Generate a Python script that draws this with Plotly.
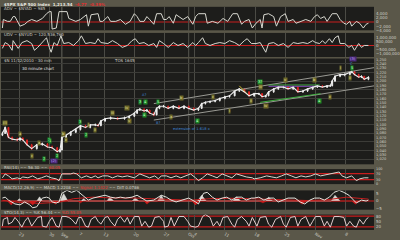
import plotly.graph_objects as go

# ---------------- DATA (x = 30-minute bar number from Aug 18 2010, 13 bars per day) ----------------
price_x = [2, 8, 15, 23, 34, 40, 46, 55, 65, 76, 88, 99, 109, 120, 126, 130, 139, 149, 160, 170,
           181, 191, 202, 208, 214, 223, 235, 250, 265, 275, 286, 292, 298, 307, 313, 319, 328, 334,
           340, 349, 359, 370, 382, 393, 403, 414, 424, 431, 439, 449, 460, 470, 481, 491, 502, 512,
           523, 533, 544, 554, 561, 569, 575, 586, 596, 607, 617, 628, 638, 649, 659, 670, 680, 691,
           701, 708, 712, 718, 729, 739, 750, 754, 760, 769, 775, 781, 790]
price_open = [1075, 1079, 1093, 1070, 1066, 1064, 1068, 1064, 1053, 1044, 1053, 1055, 1048, 1046, 1037,
              1041, 1070, 1075, 1082, 1088, 1097, 1093, 1099, 1099, 1097, 1108, 1113, 1115, 1113, 1115,
              1119, 1126, 1133, 1135, 1131, 1133, 1126, 1122, 1137, 1142, 1142, 1137, 1142, 1137, 1142,
              1137, 1133, 1137, 1148, 1151, 1153, 1155, 1160, 1164, 1166, 1177, 1182, 1175, 1166, 1171,
              1171, 1164, 1166, 1175, 1182, 1186, 1186, 1182, 1186, 1175, 1177, 1182, 1186, 1189, 1186,
              1189, 1189, 1200, 1211, 1215, 1215, 1220, 1222, 1215, 1209, 1211, 1204]
price_high = [1083, 1095, 1094, 1072, 1069, 1070, 1070, 1065, 1055, 1055, 1058, 1057, 1051, 1048, 1043,
              1072, 1077, 1084, 1090, 1099, 1099, 1101, 1102, 1101, 1110, 1115, 1118, 1117, 1118, 1121,
              1128, 1135, 1138, 1137, 1135, 1134, 1128, 1139, 1144, 1145, 1143, 1144, 1144, 1144, 1143,
              1139, 1139, 1150, 1153, 1155, 1157, 1162, 1166, 1168, 1179, 1184, 1183, 1177, 1173, 1173,
              1172, 1168, 1177, 1184, 1188, 1189, 1188, 1188, 1187, 1179, 1184, 1188, 1191, 1191, 1191,
              1192, 1202, 1213, 1217, 1218, 1222, 1224, 1223, 1217, 1213, 1212, 1211]
price_low = [1073, 1078, 1068, 1063, 1061, 1062, 1062, 1051, 1041, 1042, 1051, 1046, 1044, 1035, 1035,
             1040, 1068, 1073, 1080, 1086, 1091, 1091, 1096, 1095, 1096, 1106, 1111, 1110, 1111, 1113,
             1117, 1124, 1131, 1128, 1129, 1124, 1119, 1121, 1135, 1139, 1135, 1135, 1135, 1135, 1135,
             1131, 1131, 1136, 1146, 1149, 1151, 1153, 1158, 1162, 1165, 1175, 1173, 1164, 1164, 1168,
             1161, 1162, 1165, 1173, 1180, 1183, 1180, 1180, 1173, 1173, 1175, 1180, 1184, 1184, 1184,
             1187, 1188, 1198, 1209, 1211, 1213, 1218, 1213, 1207, 1207, 1202, 1202]
price_close = [1079, 1093, 1070, 1066, 1064, 1068, 1064, 1053, 1044, 1053, 1055, 1048, 1046, 1037, 1041,
               1070, 1075, 1082, 1088, 1097, 1093, 1099, 1099, 1097, 1108, 1113, 1115, 1113, 1115, 1119,
               1126, 1133, 1135, 1131, 1133, 1126, 1122, 1137, 1142, 1142, 1137, 1142, 1137, 1142, 1137,
               1133, 1137, 1148, 1151, 1153, 1155, 1160, 1164, 1166, 1177, 1182, 1175, 1166, 1171, 1171,
               1164, 1166, 1175, 1182, 1186, 1186, 1182, 1186, 1175, 1177, 1182, 1186, 1189, 1186, 1189,
               1189, 1200, 1211, 1215, 1215, 1220, 1222, 1215, 1209, 1211, 1204, 1209]

channel_x = [328, 802]
channel_upper = [1148, 1231]
channel_lower = [1110, 1189]
green_low_x = [557, 687]
green_low = [1151, 1171]
green_top_x = [575, 685]
green_top = [1191, 1191]
purple_top = [1188, 1188]
fib_x = [512, 533]
fib_vals = [1189, 1166]

ad_x = [2, 4, 13, 19, 25, 29, 40, 50, 57, 65, 76, 88, 97, 103, 107, 109, 118, 124, 128, 141, 145, 151,
        160, 170, 181, 183, 187, 193, 208, 212, 218, 229, 235, 246, 256, 267, 277, 286, 292, 298, 307,
        313, 319, 328, 334, 344, 349, 355, 361, 370, 376, 382, 391, 401, 412, 418, 424, 439, 443, 454,
        466, 477, 487, 498, 508, 517, 523, 533, 540, 548, 557, 561, 565, 575, 586, 592, 601, 611, 617,
        628, 634, 645, 655, 666, 674, 680, 687, 695, 701, 712, 722, 729, 737, 743, 750, 754, 764, 771,
        779, 785, 790]
ad_vals = [-2900, 1200, 300, 300, 2600, 2600, -2000, -1100, 300, 1200, 300, 1700, 4000, 5000, 5000,
           -3400, -2900, 5000, 5000, 5000, 1700, 1200, 300, 1200, 3500, 3500, -2000, 3500, 4000, 300,
           300, 2600, 300, 300, 1200, -1100, 300, 4000, 2600, 300, 300, 2600, 1200, -1100, 4000, 4000,
           1200, 1200, 2600, -600, 3500, 2600, 1200, 2600, -1100, 2600, 4000, 4000, -600, 300, -600,
           1700, 300, 4000, 4000, -1100, 300, 1200, -2900, -600, 1200, -2900, 3500, 4000, 2600, -2000,
           2600, 4000, 300, 1200, -600, 300, 1200, 300, 2600, 3500, 1700, 2600, 300, 4000, 4000, 1200,
           -600, -1100, 300, -2000, 300, -600, -2900, -1100, -600]

udv_x = [2, 8, 15, 23, 25, 36, 44, 55, 65, 71, 78, 86, 97, 103, 107, 113, 120, 128, 134, 145, 155,
         166, 172, 181, 191, 202, 208, 214, 229, 239, 250, 260, 271, 281, 288, 296, 307, 317, 328, 334,
         340, 349, 359, 370, 380, 391, 401, 412, 418, 424, 433, 439, 449, 460, 470, 481, 491, 502, 512,
         523, 529, 538, 548, 557, 569, 575, 586, 596, 607, 617, 628, 638, 649, 659, 670, 676, 685, 691,
         697, 706, 712, 718, 725, 729, 739, 748, 754, 760, 769, 775, 781, 790]
udv_vals = [-375000, 375000, 125000, -625000, 625000, -375000, 375000, 625000, 250000, -625000,
            -250000, 250000, 1000000, -250000, -875000, 375000, 0, 1250000, 250000, 375000, 0, 625000,
            1250000, 250000, 375000, 250000, 875000, 375000, 250000, 625000, 250000, -250000, 0,
            625000, 875000, 250000, 375000, 0, 250000, -250000, 625000, 250000, -250000, 375000, 0,
            250000, -250000, 375000, 0, 375000, 1000000, 250000, 0, 250000, 375000, 250000, 625000,
            375000, 0, 625000, 875000, 250000, 250000, 375000, -875000, 250000, 375000, 0, 250000,
            -250000, 375000, 250000, 375000, 250000, 625000, 375000, 250000, 625000, 250000, 875000,
            375000, 1000000, 1250000, 250000, 250000, -250000, 0, -625000, 250000, -250000, 0, 0]

rsi_x = [2, 8, 15, 23, 34, 40, 46, 57, 67, 78, 86, 97, 107, 118, 124, 130, 139, 149, 155, 162, 172, 183,
         193, 202, 208, 218, 229, 239, 250, 260, 271, 286, 298, 309, 319, 330, 338, 344, 355, 365, 376,
         386, 397, 407, 418, 424, 433, 443, 454, 464, 475, 485, 496, 506, 517, 527, 540, 544, 557, 571,
         582, 592, 603, 613, 624, 634, 645, 655, 666, 676, 687, 697, 708, 718, 727, 733, 743, 754, 764,
         771, 781, 790]
rsi_vals = [42, 68, 55, 35, 42, 35, 48, 42, 55, 35, 42, 55, 42, 35, 23, 68, 68, 68, 74, 68, 42, 55, 42,
            55, 42, 55, 55, 42, 55, 48, 55, 42, 68, 55, 42, 55, 35, 55, 55, 42, 55, 42, 55, 68, 42, 23,
            42, 68, 55, 42, 68, 55, 42, 68, 55, 48, 42, 35, 42, 55, 48, 42, 55, 68, 55, 42, 55, 48, 55,
            68, 55, 61, 68, 74, 81, 55, 42, 55, 23, 35, 42, 42]

macd_x = [2, 8, 15, 23, 29, 40, 50, 61, 67, 76, 82, 88, 97, 103, 109, 118, 124, 130, 141, 151, 162, 170,
          181, 187, 197, 208, 223, 235, 246, 256, 267, 281, 292, 302, 313, 328, 338, 344, 355, 365, 376,
          391, 403, 418, 424, 435, 443, 454, 464, 475, 485, 496, 506, 517, 527, 538, 544, 554, 565, 575,
          586, 596, 607, 617, 632, 643, 653, 664, 674, 685, 695, 706, 716, 727, 737, 748, 758, 764, 775,
          785, 790]
macd_vals = [1.9, 2.5, 0.6, -0.6, -1.9, -2.5, -0.6, -2.5, -4.4, -3.75, -0.6, 1.9, 2.5, 1.9, -0.6,
             -1.25, -0.6, 5.0, 6.9, 5.6, 6.9, 5.0, 1.9, 0.6, 1.9, 2.5, 3.75, 2.5, 1.9, 2.5, 1.9, 2.5,
             3.75, 1.9, 0.0, 0.6, 2.5, 3.75, 2.5, 0.6, -0.6, 0.6, 1.9, -0.6, -1.9, 5.0, 5.6, 2.5, 0.6,
             1.9, 2.5, 0.6, 2.5, 2.5, 0.6, 1.9, 1.9, 2.5, 0.6, 1.9, 1.9, -0.6, 0.6, 1.9, 1.9, -0.6,
             -1.9, 0.6, 1.9, 1.9, 0.6, 2.5, 5.6, 6.9, 5.6, 3.75, 0.6, -1.25, 0.6, 0.0, 0.6]
signal_x = [2, 40, 82, 124, 155, 197, 239, 281, 323, 365, 407, 449, 491, 533, 575, 617, 659, 701, 743, 790]
signal_vals = [0.5, -1.0, -1.5, -0.8, 1.5, 2.5, 2.0, 2.0, 1.5, 1.2, 0.5, 1.5, 1.8, 1.5, 1.2, 0.8, 0.3,
               0.8, 2.5, 1.2]
hist_pos_x = [34, 38, 44, 76, 82, 88, 126, 134, 143, 172, 177, 183, 227, 233, 242, 281, 288, 296,
              336, 344, 351, 422, 431, 441, 498, 506, 515, 569, 575, 584, 710, 718, 729]
hist_pos_vals = [0, 1.5, 0, 0, 2.7, 0, 0, 4.8, 0, 0, 1.7, 0, 0, 2.5, 0, 0, 2.0, 0, 0, 3.7, 0, 0, 3.7, 0,
                 0, 2.7, 0, 0, 2.5, 0, 0, 3.7, 0]
hist_neg_x = [13, 21, 29, 59, 67, 76, 107, 116, 124, 164, 170, 176, 307, 313, 321, 410, 418, 426,
              554, 563, 571, 638, 647, 657, 754, 762, 771]
hist_neg_vals = [0, -2.5, 0, 0, -2.5, 0, 0, -2.0, 0, 0, -1.2, 0, 0, -2.0, 0, 0, -2.5, 0, 0, -1.2, 0,
                 0, -2.0, 0, 0, -2.0, 0]

sto_x = [2, 4, 13, 15, 23, 29, 36, 44, 50, 57, 65, 71, 78, 86, 88, 97, 103, 109, 118, 124, 130, 139,
         145, 151, 160, 166, 172, 181, 187, 193, 202, 208, 214, 223, 229, 235, 244, 250, 256, 265, 271,
         277, 286, 296, 302, 309, 317, 323, 330, 340, 349, 351, 359, 365, 372, 382, 393, 401, 407, 418,
         424, 433, 439, 449, 456, 464, 470, 477, 487, 496, 502, 508, 517, 527, 533, 540, 550, 557, 569,
         575, 582, 590, 601, 607, 613, 622, 632, 638, 645, 655, 664, 670, 676, 687, 695, 701, 708, 716,
         727, 737, 743, 750, 758, 764, 771, 779, 785, 790]
sto_vals = [24, 62, 73, 35, 46, 73, 51, 18, 51, 73, 24, 46, 73, 78, 24, 18, 51, 73, 24, 18, 78, 78, 73,
            62, 35, 73, 73, 24, 18, 62, 78, 51, 35, 73, 78, 51, 24, 62, 78, 46, 73, 35, 78, 78, 24, 51,
            18, 24, 73, 78, 51, 18, 24, 73, 24, 78, 78, 51, 24, 18, 24, 78, 89, 73, 24, 51, 24, 73, 78,
            35, 18, 62, 78, 51, 24, 73, 24, 73, 78, 35, 18, 62, 78, 35, 18, 73, 78, 24, 62, 78, 24, 51,
            78, 78, 24, 51, 18, 78, 78, 73, 24, 51, 24, 18, 62, 35, 62, 73]

grid_days = [0, 39, 104, 130, 169, 221, 286, 351, 403, 416, 481, 546, 611, 676, 741]
grid_labels = ["Aug", "23", "30", "Sep", "7", "13", "20", "27", "Oct", "4", "11", "18", "25", "Nov", "8"]
month_starts = [130, 403, 676]

# wave labels: (bar, price, text, kind)
wave_labels = [
    (8, 1104, "(i)", "olive"), (40, 1079, "a", "olive"), (103, 1064, "2", "green"),
    (134, 1077, "b", "olive"), (139, 1064, "c", "olive"), (168, 1106, "3", "green"),
    (187, 1099, "i", "olive"), (181, 1075, "2", "green"), (202, 1086, "ii", "olive"),
    (239, 1126, "iii", "olive"), (271, 1139, "iv", "olive"), (275, 1108, "v", "olive"),
    (307, 1167, "A?", "blue"), (298, 1151, "3", "green"), (311, 1151, "4", "green"),
    (307, 1122, "4", "green"), (338, 1151, "5", "green"), (338, 1104, "B?", "blue"),
    (365, 1117, "a", "olive"), (388, 1162, "b", "olive"), (456, 1164, "c", "olive"),
    (491, 1131, "i", "olive"), (557, 1197, "3?", "green"), (557, 1186, "iii", "olive"),
    (538, 1153, "ii", "olive"), (569, 1142, "iv", "olive"), (611, 1202, "v", "olive"),
    (674, 1202, "b", "olive"), (708, 1164, "c", "olive"), (685, 1153, "4", "green"),
    (729, 1231, "i", "olive"), (756, 1250, "(3)", "purple"), (754, 1240, "C", "blue"),
    (754, 1230, "5", "green"), (750, 1206, "ii", "olive"), (422, 1108, "4", "green"),
    (65, 1026, "c", "olive"), (105, 1062, "1", "green"), (92, 1021, "2", "green"),
    (80, 1057, "a", "olive"), (120, 1026, "2", "green"), (113, 1015, "(2)", "purple"),
]

# ---------------- STYLE ----------------
BG = "#5a5749"
PANEL = "#1d1d1b"
GRID = "#3c3c38"
VGRID = "#4b4b45"
RED = "#c81e1e"
TXT = "#cfcfc8"
FONT = "DejaVu Sans"
H = 236.0  # plot height in px (240 - bottom margin)


def fy(py):
    return 1 - py / H


def fx(px):
    return (px - 1) / 382.0


fig = go.Figure()

fig.add_trace(go.Scatter(x=ad_x, y=ad_vals, mode="lines", line=dict(color="#d8d8d0", width=1),
                         xaxis="x", yaxis="y"))
fig.add_trace(go.Scatter(x=udv_x, y=udv_vals, mode="lines", line=dict(color="#d8d8d0", width=1),
                         xaxis="x", yaxis="y2"))
for lx, ly, col in [(channel_x, channel_upper, "#9a9a94"), (channel_x, channel_lower, "#9a9a94"),
                    (green_low_x, green_low, "#3fae3f"), (green_top_x, green_top, "#3fae3f"),
                    (green_top_x, purple_top, "#8a4ac0"), (fib_x, fib_vals, "#c8b432")]:
    fig.add_trace(go.Scatter(x=lx, y=ly, mode="lines", line=dict(color=col, width=1),
                             xaxis="x", yaxis="y3"))
fig.add_trace(go.Scatter(x=price_x, y=price_close, mode="lines", line=dict(color="#eeeeee", width=1.1),
                         xaxis="x", yaxis="y3"))
fig.add_trace(go.Candlestick(x=price_x, open=price_open, high=price_high, low=price_low, close=price_close,
                             increasing=dict(line=dict(color="#eeeeee", width=1), fillcolor="#eeeeee"),
                             decreasing=dict(line=dict(color="#e02424", width=1), fillcolor="#e02424"),
                             whiskerwidth=0, xaxis="x", yaxis="y3"))
fig.add_trace(go.Scatter(x=rsi_x, y=rsi_vals, mode="lines", line=dict(color="#d8d8d0", width=1),
                         xaxis="x", yaxis="y4"))
fig.add_trace(go.Scatter(x=hist_pos_x, y=hist_pos_vals, mode="lines", fill="tozeroy",
                         fillcolor="#d8d8d4", line=dict(color="#d8d8d4", width=0.5), xaxis="x", yaxis="y5"))
fig.add_trace(go.Scatter(x=hist_neg_x, y=hist_neg_vals, mode="lines", fill="tozeroy",
                         fillcolor="#d01c1c", line=dict(color="#d01c1c", width=0.5), xaxis="x", yaxis="y5"))
fig.add_trace(go.Scatter(x=signal_x, y=signal_vals, mode="lines", line=dict(color=RED, width=1),
                         xaxis="x", yaxis="y5"))
fig.add_trace(go.Scatter(x=macd_x, y=macd_vals, mode="lines", line=dict(color="#e4e4de", width=1),
                         xaxis="x", yaxis="y5"))
fig.add_trace(go.Scatter(x=sto_x, y=sto_vals, mode="lines", line=dict(color="#e2cccc", width=1),
                         xaxis="x", yaxis="y6"))
# invisible trace so the label-only overlay axis is drawn
fig.add_trace(go.Scatter(x=[price_x[0]], y=[price_close[0]], mode="markers", marker=dict(opacity=0),
                         xaxis="x", yaxis="y7", hoverinfo="skip"))

tickfont = dict(family=FONT, size=4, color=TXT)
yaxis_common = dict(side="right", showgrid=False, zeroline=False, ticks="",
                    fixedrange=True, showline=False, anchor="x", tickformat=",d", ticklabelstandoff=1)

fig.update_layout(
    width=400, height=240,
    margin=dict(l=1, r=17, t=0, b=4),
    paper_bgcolor=BG, plot_bgcolor=PANEL,
    showlegend=False,
    font=dict(family=FONT, size=4, color=TXT),
    xaxis=dict(range=[-1, 802], anchor="y6", tickvals=grid_days, ticktext=grid_labels,
               showgrid=True, gridcolor=VGRID, gridwidth=1, zeroline=False, ticks="",
               tickfont=dict(family=FONT, size=4, color=TXT), rangeslider=dict(visible=False),
               showline=False, ticklabelstandoff=0),
    yaxis=dict(domain=[fy(29.3), fy(5)], range=[-4000, 7300], tickfont=tickfont,
               tickvals=[4000, 2000, 0, -2000, -4000], **yaxis_common),
    yaxis2=dict(domain=[fy(57), fy(32)], range=[-1500000, 1625000], tickfont=tickfont,
                tickvals=[1000000, 500000, 0, -500000, -1000000], **yaxis_common),
    yaxis3=dict(domain=[fy(168), fy(58.5)], range=[1007.9, 1252.1], side="right", anchor="x",
                showgrid=True, gridcolor=GRID, gridwidth=1, dtick=20, tick0=1000,
                showticklabels=False, zeroline=False, ticks="", fixedrange=True),
    yaxis7=dict(overlaying="y3", range=[1007.9, 1252.1], tickvals=list(range(1020, 1251, 10)),
                tickfont=dict(family=FONT, size=3.6, color=TXT), **yaxis_common),
    yaxis4=dict(domain=[fy(188.5), fy(173)], range=[0, 100], tickvals=[100, 70, 30, 0],
                tickfont=dict(family=FONT, size=3.4, color=TXT), **yaxis_common),
    yaxis5=dict(domain=[fy(215), fy(195)], range=[-5.625, 6.875], tickvals=[5, 0, -5],
                tickfont=tickfont, **yaxis_common),
    yaxis6=dict(domain=[0, fy(220)], range=[2, 89.3], tickvals=[80, 50, 20],
                tickfont=tickfont, **yaxis_common),
)

shapes = []
# red reference lines
for yref, val in [("y", 0), ("y2", 0), ("y4", 70), ("y4", 30), ("y5", 0), ("y6", 80), ("y6", 20)]:
    shapes.append(dict(type="line", xref="x domain", yref=yref, x0=0, x1=1, y0=val, y1=val,
                       line=dict(color=RED, width=1.2), layer="below"))
# brighter month separators in every panel
for yref in ["y", "y2", "y3", "y4", "y5", "y6"]:
    for m in month_starts:
        shapes.append(dict(type="line", xref="x", yref=yref + " domain", x0=m, x1=m, y0=0, y1=1,
                           line=dict(color="#65655d", width=1), layer="below"))
fig.update_layout(shapes=shapes)

ann = []


def label(px, py, text, color=TXT, size=4):
    ann.append(dict(x=fx(px), y=fy(py), xref="paper", yref="paper", text=text, showarrow=False,
                    xanchor="left", yanchor="middle", font=dict(family=FONT, size=size, color=color)))


label(2, 2.6, "<b>$SPX S&P 500 Index  1,213.54</b>  <span style='color:#e03030'><b>-4.77  -0.39%</b></span>", "#e8e8e0", 4)
label(2, 7.2, "ADV ~ $NYAD ~ 985")
label(2, 33.6, "UDV ~ $NYUD ~ 120,536,760")
label(2, 60.4, "$N 11/12/2010 · 30 min")
label(115, 60.4, "TOS 1645")
label(20, 69, "30 minute chart", "#e8e8e8")
label(2, 170.8, "RSI(14) ~~ 56.30 ~~ <span style='color:#e03030'>60.05</span>")
label(2, 192.2, "MACD(12,26,9) ~~ MACD 1.2208 ~~ <span style='color:#e03030'>Signal 1.1422</span> ~~ Diff 0.0786")
label(2, 217.4, "STO(14,3) ~~ %K 56.44 ~~ <span style='color:#e03030'>%D 55.05</span>")

kind_style = {
    "olive": dict(bg="#6e6a2a", fg="#e8e2a0"),
    "green": dict(bg="#1f8a2a", fg="#c8ffc8"),
    "blue": dict(bg="rgba(0,0,0,0)", fg="#3d86d8"),
    "purple": dict(bg="#4a2a78", fg="#c0a0ff"),
}
for bx, pr, t, k in wave_labels:
    st = kind_style[k]
    ann.append(dict(x=bx, y=pr, xref="x", yref="y3", text=t, showarrow=False,
                    font=dict(family=FONT, size=3.6, color=st["fg"]), bgcolor=st["bg"], borderpad=0))
ann.append(dict(x=365, y=1090, xref="x", yref="y3", text="extension of 1.618 x", showarrow=False,
                xanchor="left", font=dict(family=FONT, size=3.6, color="#3d86d8")))
fig.update_layout(annotations=ann)

fig.write_html("out.html")
